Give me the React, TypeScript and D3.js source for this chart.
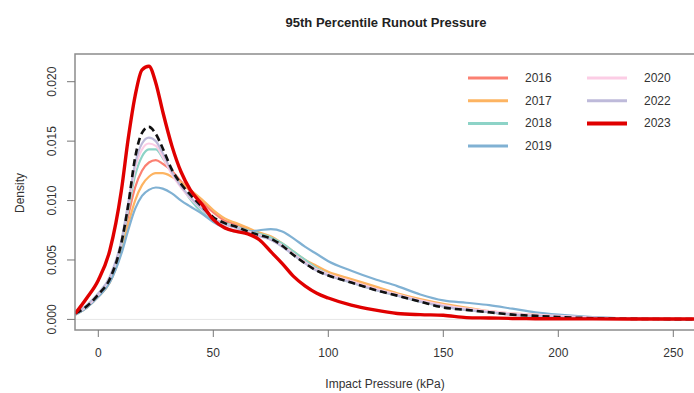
import { useEffect, useRef } from 'react';
import * as d3 from 'd3';

// pressure grid (kPa) the densities are read at
const pressure = [-10, -5, 0, 5, 10, 13, 16, 19, 22, 25, 28, 32, 36, 40, 45, 50, 55, 60, 65, 70, 75, 80, 85, 90, 95, 100, 110, 120, 130, 140, 150, 160, 170, 180, 190, 200, 215, 230, 245, 260];

const d2016 = [0.0004, 0.0010, 0.0020, 0.0033, 0.0060, 0.0087, 0.0111, 0.0125, 0.0132, 0.0134, 0.0131, 0.0125, 0.0116, 0.0108, 0.0099, 0.0090, 0.0083, 0.0080, 0.0076, 0.0072, 0.0069, 0.0063, 0.0055, 0.0048, 0.0042, 0.0038, 0.0032, 0.0026, 0.0021, 0.0016, 0.0012, 0.0009, 0.0006, 0.0004, 0.0003, 0.0002, 0.0001, 0.00005, 0.00003, 0.00002];
const d2017 = [0.0004, 0.0010, 0.0019, 0.0031, 0.0057, 0.0080, 0.0100, 0.0113, 0.0120, 0.0123, 0.0123, 0.0120, 0.0115, 0.0109, 0.0101, 0.0092, 0.0085, 0.0081, 0.0077, 0.0073, 0.0070, 0.0064, 0.0057, 0.0050, 0.0045, 0.0040, 0.0034, 0.0028, 0.0022, 0.0017, 0.0013, 0.0010, 0.0007, 0.0005, 0.0004, 0.0003, 0.00015, 0.00008, 0.00004, 0.00002];
const d2018 = [0.0004, 0.0010, 0.0020, 0.0034, 0.0062, 0.0092, 0.0121, 0.0137, 0.0143, 0.0143, 0.0136, 0.0123, 0.0112, 0.0101, 0.0090, 0.0084, 0.0081, 0.0078, 0.0075, 0.0072, 0.0069, 0.0064, 0.0057, 0.0050, 0.0043, 0.0038, 0.0031, 0.0025, 0.0020, 0.0015, 0.0011, 0.0008, 0.0006, 0.0004, 0.0003, 0.0002, 0.0001, 0.00005, 0.00003, 0.00002];
const d2019 = [0.0004, 0.0010, 0.0019, 0.0031, 0.0055, 0.0075, 0.0093, 0.0104, 0.0109, 0.0111, 0.0110, 0.0106, 0.0100, 0.0095, 0.0089, 0.0082, 0.0077, 0.0074, 0.0074, 0.0075, 0.0076, 0.0074, 0.0068, 0.0061, 0.0055, 0.0049, 0.0041, 0.0034, 0.0028, 0.0021, 0.0016, 0.0014, 0.0012, 0.0009, 0.0006, 0.0004, 0.0002, 0.0001, 0.00005, 0.00003];
const d2020 = [0.0005, 0.0011, 0.0021, 0.0035, 0.0064, 0.0095, 0.0127, 0.0143, 0.0148, 0.0146, 0.0137, 0.0122, 0.0111, 0.0102, 0.0093, 0.0085, 0.0080, 0.0077, 0.0074, 0.0071, 0.0067, 0.0062, 0.0055, 0.0048, 0.0042, 0.0038, 0.0032, 0.0026, 0.0021, 0.0016, 0.0012, 0.0009, 0.0007, 0.0005, 0.0004, 0.0003, 0.00015, 0.00008, 0.00004, 0.00002];
const d2022 = [0.0005, 0.0012, 0.0022, 0.0036, 0.0066, 0.0098, 0.0131, 0.0148, 0.0153, 0.0150, 0.0140, 0.0124, 0.0112, 0.0103, 0.0093, 0.0085, 0.0080, 0.0077, 0.0073, 0.0070, 0.0067, 0.0061, 0.0054, 0.0047, 0.0041, 0.0037, 0.0031, 0.0025, 0.0020, 0.0015, 0.0011, 0.0008, 0.0006, 0.0004, 0.0003, 0.0002, 0.0001, 0.00005, 0.00003, 0.00002];
const d2023 = [0.0005, 0.0018, 0.0033, 0.0058, 0.0108, 0.0152, 0.0188, 0.0210, 0.0213, 0.0199, 0.0175, 0.0146, 0.0124, 0.0109, 0.0097, 0.0084, 0.0077, 0.0074, 0.0072, 0.0067, 0.0057, 0.0047, 0.0036, 0.0028, 0.0022, 0.0018, 0.0012, 0.0008, 0.0005, 0.0004, 0.00035, 0.00015, 0.00012, 0.00008, 0.00006, 0.00005, 0.00004, 0.00004, 0.00003, 0.00003];
// all years pooled (dashed, not in legend)
const dAll = [0.0005, 0.0011, 0.0021, 0.0034, 0.0064, 0.0096, 0.0136, 0.0157, 0.0162, 0.0156, 0.0144, 0.0126, 0.0114, 0.0105, 0.0095, 0.0086, 0.0081, 0.0078, 0.0074, 0.0071, 0.0068, 0.0062, 0.0054, 0.0047, 0.0041, 0.0037, 0.0031, 0.0025, 0.0020, 0.0015, 0.0010, 0.0008, 0.0006, 0.0004, 0.0003, 0.0002, 0.0001, 0.00005, 0.00003, 0.00002];

const years = ['2016', '2017', '2018', '2019', '2020', '2022', '2023'];
const colors = ['#fb8072', '#fdb462', '#8dd3c7', '#80b1d3', '#fccde5', '#bebada', '#e00000'];
const series = [d2016, d2017, d2018, d2019, d2020, d2022, d2023];

const xTicks = [0, 50, 100, 150, 200, 250];
const yTicks = [0, 0.005, 0.01, 0.015, 0.02];

export default function App() {
  const svgRef = useRef(null);

  useEffect(() => {
    const width = 694;
    const height = 393;
    const left = 75, top = 54, bottom = 330, right = 700;
    const svg = d3.select(svgRef.current);
    svg.selectAll('*').remove();

    const x = d3.scaleLinear().domain([0, 250]).range([98.3, 673.3]);
    const y = d3.scaleLinear().domain([0, 0.02]).range([319.4, 81.7]);
    const font = 'Liberation Sans, Arial, sans-serif';

    svg.append('defs').append('clipPath').attr('id', 'plotclip')
      .append('rect').attr('x', left).attr('y', top).attr('width', right - left).attr('height', bottom - top);

    // title
    svg.append('text')
      .attr('x', 386).attr('y', 27)
      .attr('text-anchor', 'middle')
      .style('font', `bold 13px ${font}`)
      .attr('fill', '#222')
      .text('95th Percentile Runout Pressure');

    // zero line
    svg.append('line')
      .attr('x1', left).attr('x2', right)
      .attr('y1', y(0)).attr('y2', y(0))
      .attr('stroke', '#e6e6e6').attr('stroke-width', 1);

    const line = d3.line()
      .x((d, i) => x(pressure[i]))
      .y(d => y(d))
      .curve(d3.curveMonotoneX);

    const g = svg.append('g').attr('clip-path', 'url(#plotclip)');
    series.slice(0, 6).forEach((s, i) => {
      g.append('path').attr('d', line(s)).attr('fill', 'none')
        .attr('stroke', colors[i]).attr('stroke-width', 2.2);
    });
    g.append('path').attr('d', line(dAll)).attr('fill', 'none')
      .attr('stroke', '#111').attr('stroke-width', 2.6).attr('stroke-dasharray', '7,4');
    g.append('path').attr('d', line(d2023)).attr('fill', 'none')
      .attr('stroke', colors[6]).attr('stroke-width', 3.4);

    // box
    svg.append('rect')
      .attr('x', left).attr('y', top).attr('width', right - left).attr('height', bottom - top)
      .attr('fill', 'none').attr('stroke', '#8c8c8c').attr('stroke-width', 1.5);

    // x axis
    const xa = svg.append('g');
    xTicks.forEach(t => {
      xa.append('line').attr('x1', x(t)).attr('x2', x(t)).attr('y1', bottom).attr('y2', 337)
        .attr('stroke', '#777').attr('stroke-width', 1);
      xa.append('text').attr('x', x(t)).attr('y', 357).attr('text-anchor', 'middle')
        .style('font', `12px ${font}`).attr('fill', '#333').text(t);
    });
    svg.append('text').attr('x', 385).attr('y', 388).attr('text-anchor', 'middle')
      .style('font', `12px ${font}`).attr('fill', '#333').text('Impact Pressure (kPa)');

    // y axis
    const ya = svg.append('g');
    yTicks.forEach(t => {
      ya.append('line').attr('x1', 67).attr('x2', left).attr('y1', y(t)).attr('y2', y(t))
        .attr('stroke', '#777').attr('stroke-width', 1);
      ya.append('text')
        .attr('transform', `translate(56,${y(t)}) rotate(-90)`)
        .attr('text-anchor', 'middle')
        .style('font', `12px ${font}`).attr('fill', '#333').text(d3.format('.3f')(t));
    });
    svg.append('text')
      .attr('transform', 'translate(24,193) rotate(-90)')
      .attr('text-anchor', 'middle')
      .style('font', `12px ${font}`).attr('fill', '#333').text('Density');

    // legend
    const lg = svg.append('g');
    years.forEach((yr, i) => {
      const col = i < 4 ? 0 : 1;
      const row = i < 4 ? i : i - 4;
      const lx = col === 0 ? 468 : 587;
      const ly = 78 + row * 22.7;
      lg.append('line').attr('x1', lx).attr('x2', lx + 40).attr('y1', ly).attr('y2', ly)
        .attr('stroke', colors[i]).attr('stroke-width', i === 6 ? 4 : 3);
      lg.append('text').attr('x', lx + 57).attr('y', ly + 4)
        .style('font', `12px ${font}`).attr('fill', '#333').text(yr);
    });
  }, []);

  return (
    <svg ref={svgRef} width={694} height={393}
      style={{ position: 'absolute', left: 0, top: 0, background: '#fff' }} />
  );
}
